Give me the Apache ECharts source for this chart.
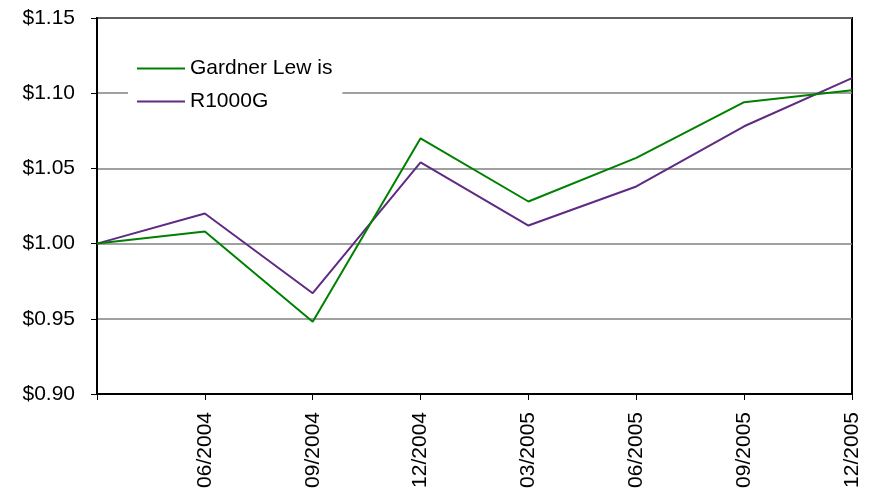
<!DOCTYPE html>
<html lang="en">
<head>
    <meta charset="UTF-8">
    <title>Growth of $1</title>
    <style>
        * { padding: 0; margin: 0; box-sizing: border-box; }
        html, body { width: 100%; height: 100%; overflow: hidden; background: #fff; }
        #box { width: 873px; height: 488px; }
    </style>
</head>
<body>
    <div id="box"></div>
</body>
<script src="https://cdn.jsdelivr.net/npm/echarts@6/dist/echarts.min.js"></script>
<script>
    var categories = ["", "06/2004", "09/2004", "12/2004", "03/2005", "06/2005", "09/2005", "12/2005"];
    var gardnerLewis = [1.000, 1.008, 0.948, 1.070, 1.028, 1.057, 1.094, 1.102];
    var r1000g = [1.000, 1.020, 0.967, 1.054, 1.012, 1.038, 1.078, 1.110];

    var font = "'Liberation Sans', Arial, sans-serif";
    var lineIcon = 'path://M0,0 L50,0 L50,2 L0,2 Z';
    var box = echarts.init(document.getElementById("box"));
    var option = {
        animation: false,
        grid: {
            left: 97, right: 21, top: 18, bottom: 94,
            outerBoundsMode: 'none', containLabel: false,
            show: true, borderColor: '#000', borderWidth: 2
        },
        legend: {
            orient: 'vertical',
            left: 128,
            top: 50,
            padding: [8, 10, 8, 9],
            backgroundColor: '#fff',
            itemWidth: 48,
            itemHeight: 14,
            itemGap: 12,
            textStyle: { fontFamily: font, fontSize: 21, color: '#000' },
            data: [
                { name: 'Gardner Lew is', itemStyle: { color: '#008000' }, icon: lineIcon },
                { name: 'R1000G', itemStyle: { color: '#5f2a84' }, icon: lineIcon }
            ]
        },
        xAxis: {
            type: 'category',
            boundaryGap: false,
            data: categories,
            axisLine: { lineStyle: { color: '#000', width: 2 } },
            axisTick: { show: true, length: 6, lineStyle: { color: '#000' } },
            axisLabel: { rotate: 90, fontFamily: font, fontSize: 21, color: '#000', margin: 18, interval: 0 },
            splitLine: { show: false }
        },
        yAxis: {
            type: 'value',
            min: 0.90,
            max: 1.15,
            interval: 0.05,
            axisLine: { show: true, lineStyle: { color: '#000', width: 2 } },
            axisTick: { show: true, length: 6, lineStyle: { color: '#000' } },
            axisLabel: {
                fontFamily: font, fontSize: 21, color: '#000', margin: 22,
                formatter: function (v) { return '$' + v.toFixed(2); }
            },
            splitLine: { show: true, lineStyle: { color: '#808080', width: 1.5 } }
        },
        series: [
            {
                name: 'Gardner Lew is',
                type: 'line',
                data: gardnerLewis,
                symbol: 'none',
                z: 3,
                lineStyle: { color: '#008000', width: 2 },
                itemStyle: { color: '#008000' }
            },
            {
                name: 'R1000G',
                type: 'line',
                data: r1000g,
                symbol: 'none',
                z: 2,
                lineStyle: { color: '#5f2a84', width: 2 },
                itemStyle: { color: '#5f2a84' }
            }
        ]
    };
    box.setOption(option);
</script>
</html>
